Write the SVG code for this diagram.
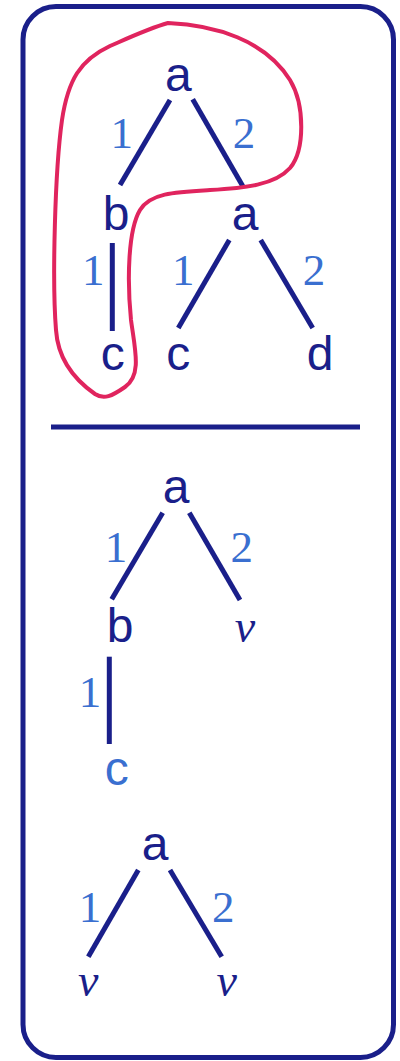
<svg xmlns="http://www.w3.org/2000/svg" width="400" height="1061" viewBox="0 0 400 1061">
<style>
.n{font-family:"Liberation Sans",Arial,sans-serif;font-size:48px;fill:#1a1f8a;text-anchor:middle}
.lc{fill:#3a6fd0}
.l{font-family:"Liberation Serif","Times New Roman",serif;font-size:45px;fill:#3a6fd0;text-anchor:middle}
.v{font-family:"Liberation Serif","Times New Roman",serif;font-style:italic;font-size:46px;fill:#1a1f8a;text-anchor:middle}
.e{stroke:#1a1f8a;stroke-width:5;fill:none}
</style>
<rect x="23" y="6.5" width="370.5" height="1051" rx="33" fill="#fff" stroke="#1a1f8a" stroke-width="5"/>
<line x1="51" y1="427" x2="360" y2="427" stroke="#1a1f8a" stroke-width="5"/>
<g id="connectors">
<line class="e" x1="170" y1="100" x2="120" y2="185"/>
<line class="e" x1="192.7" y1="99.3" x2="242.7" y2="186"/>
<line class="e" x1="112.3" y1="243" x2="112.3" y2="331"/>
<line class="e" x1="229.3" y1="240" x2="178.3" y2="328"/>
<line class="e" x1="260.7" y1="240" x2="312.7" y2="328"/>
<line class="e" x1="162.7" y1="512.7" x2="111.7" y2="599.3"/>
<line class="e" x1="189.3" y1="512.7" x2="240" y2="600"/>
<line class="e" x1="109.3" y1="656.7" x2="109.3" y2="744"/>
<line class="e" x1="138.3" y1="870" x2="88.3" y2="956.7"/>
<line class="e" x1="170" y1="870" x2="221.7" y2="956.7"/>
</g>
<g id="labels">
<text class="l" x="121.7" y="148">1</text>
<text class="l" x="244" y="148">2</text>
<text class="l" x="93.3" y="285">1</text>
<text class="l" x="183.3" y="285">1</text>
<text class="l" x="314" y="285">2</text>
<text class="l" x="116" y="562">1</text>
<text class="l" x="241.7" y="562">2</text>
<text class="l" x="90" y="707">1</text>
<text class="l" x="90" y="922">1</text>
<text class="l" x="223.3" y="922">2</text>
</g>
<g id="t1-root"><text class="n" x="178.3" y="91">a</text></g>
<g id="t1-b"><text class="n" x="116" y="230">b</text></g>
<g id="t1-a2"><text class="n" x="245" y="230">a</text></g>
<g id="t1-c1"><text class="n" x="112.7" y="370">c</text></g>
<g id="t1-c2"><text class="n" x="178.3" y="370">c</text></g>
<g id="t1-d"><text class="n" x="320" y="370">d</text></g>
<g id="t2-root"><text class="n" x="176" y="503">a</text></g>
<g id="t2-b"><text class="n" x="120" y="642">b</text></g>
<g id="t2-nu"><text class="v" x="245" y="642">ν</text></g>
<g id="t2-c"><text class="n lc" x="116.7" y="785">c</text></g>
<g id="t3-root"><text class="n" x="155" y="860">a</text></g>
<g id="t3-nu1"><text class="v" x="88.3" y="996">ν</text></g>
<g id="t3-nu2"><text class="v" x="226.7" y="996">ν</text></g>
<path id="highlight" d="M168,23 C215,25 265,40 290,80 C305,105 305,150 290,168 C275,185 245,188 210,190 C175,192 150,193 140,210 C128,230 127,280 131,320 C135,350 142,375 125,387 C112,396 104,400 95,394 C75,380 58,360 56,330 C52,280 55,170 62,120 C68,80 80,60 110,46 C135,35 150,28 168,23 Z" fill="none" stroke="#e0245e" stroke-width="4"/>
</svg>
